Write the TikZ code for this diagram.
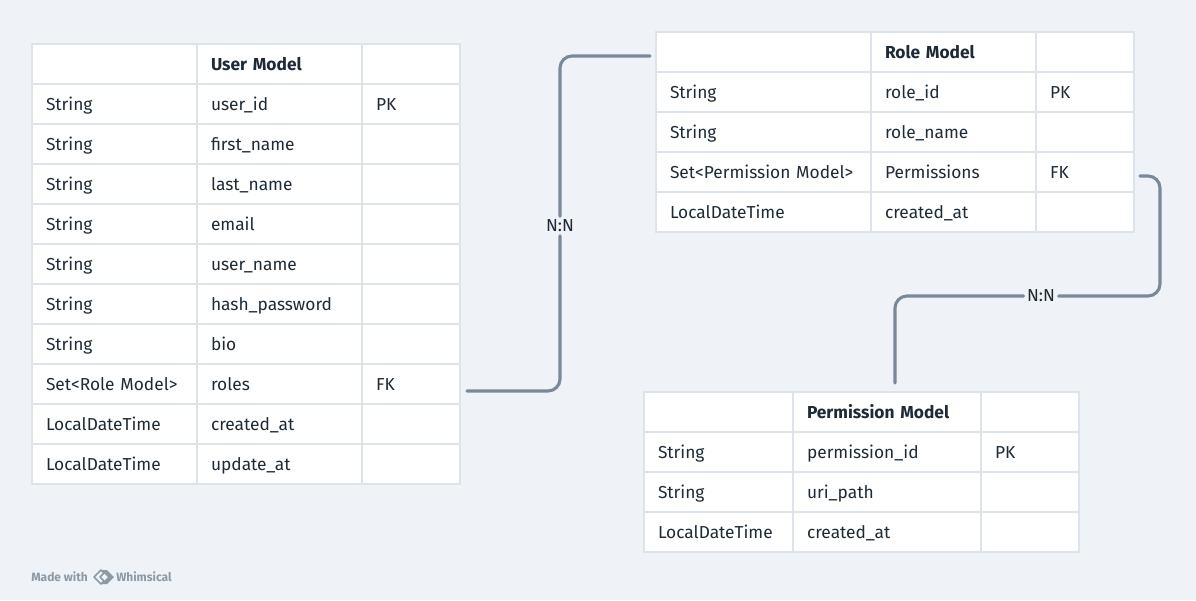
\documentclass[tikz,border=0pt]{standalone}
\usepackage{fontspec}
\setmainfont{Fira Sans}
\usetikzlibrary{positioning}
\definecolor{bgcol}{HTML}{EFF2F6}
\definecolor{gridcol}{HTML}{DDE3EB}
\definecolor{linkcol}{HTML}{7A8999}
\definecolor{txtcol}{HTML}{1E2A36}
\definecolor{markcol}{HTML}{8C99A6}
\tikzset{
  cell/.style={draw=gridcol, fill=white, line width=1.5pt, anchor=north west,
    outer sep=0pt, inner xsep=10.5pt, minimum height=30pt, align=left,
    text height=12pt, text depth=2pt,
    text=txtcol, font=\fontsize{13}{15}\selectfont},
  headcell/.style={cell, font=\bfseries\fontsize{13}{15}\selectfont},
  rel/.style={draw=linkcol, line width=2.3pt, line cap=round, rounded corners=9pt},
  card/.style={fill=bgcol, inner sep=2.5pt, text=txtcol, font=\fontsize{13}{15}\selectfont}
}
\begin{document}
\begin{tikzpicture}[x=0.75pt, y=-0.75pt]
  \fill[bgcol] (0,0) rectangle (1196,600);
  \useasboundingbox (0,0) rectangle (1196,600);
  % User Model
  \node[cell, text width=102.75pt] (u0a) at (32,44) {};
  \node[headcell, text width=102.75pt] (u0b) at (197,44) {User Model};
  \node[cell, text width=52.5pt] (u0c) at (362,44) {};
  \foreach \ta/\tb/\tc [count=\i] in {String/user\_id/PK, String/first\_name/{}, String/last\_name/{},
      String/email/{}, String/user\_name/{}, String/hash\_password/{}, String/bio/{},
      {Set<Role Model>}/roles/FK, LocalDateTime/created\_at/{}, LocalDateTime/update\_at/{}} {
    \node[cell, text width=102.75pt] (u\i a) at (32,44+40*\i) {\ta};
    \node[cell, text width=102.75pt] (u\i b) at (197,44+40*\i) {\tb};
    \node[cell, text width=52.5pt] (u\i c) at (362,44+40*\i) {\tc};
  }
  % Role Model
  \node[cell, text width=140.25pt] (r0a) at (656,32) {};
  \node[headcell, text width=102.75pt] (r0b) at (871,32) {Role Model};
  \node[cell, text width=52.5pt] (r0c) at (1036,32) {};
  \foreach \ta/\tb/\tc [count=\i] in {String/role\_id/PK, String/role\_name/{},
      {Set<Permission Model>}/Permissions/FK, LocalDateTime/created\_at/{}} {
    \node[cell, text width=140.25pt] (r\i a) at (656,32+40*\i) {\ta};
    \node[cell, text width=102.75pt] (r\i b) at (871,32+40*\i) {\tb};
    \node[cell, text width=52.5pt] (r\i c) at (1036,32+40*\i) {\tc};
  }
  % Permission Model
  \node[cell, text width=90.75pt] (p0a) at (644,392) {};
  \node[headcell, text width=120pt] (p0b) at (793,392) {Permission Model};
  \node[cell, text width=52.5pt] (p0c) at (981,392) {};
  \foreach \ta/\tb/\tc [count=\i] in {String/permission\_id/PK, String/uri\_path/{},
      LocalDateTime/created\_at/{}} {
    \node[cell, text width=90.75pt] (p\i a) at (644,392+40*\i) {\ta};
    \node[cell, text width=120pt] (p\i b) at (793,392+40*\i) {\tb};
    \node[cell, text width=52.5pt] (p\i c) at (981,392+40*\i) {\tc};
  }
  % relations
  \coordinate (uout) at ([shift={(7,7)}]u8c.east);
  \coordinate (rin) at ([shift={(-6,4)}]r0a.west);
  \coordinate (rout) at ([shift={(6,4)}]r3c.east);
  \coordinate (rturn) at (1160,296);
  \coordinate (pin) at ([shift={(8,-9)}]p0b.north);
  \node[card] (nn1) at (560,226) {N:N};
  \node[card] (nn2) at (1041,296) {N:N};
  \draw[rel] (uout) -| (nn1);
  \draw[rel] (nn1) |- (rin);
  \draw[rel] (rout) -| (rturn) -- (nn2);
  \draw[rel] (nn2) -| (pin);
  % footer
  \node[anchor=west, inner sep=0pt, text=markcol, font=\bfseries\fontsize{9}{11}\selectfont] (made) at (31,577) {Made with};
  \draw[markcol, line width=1.2pt, line join=round] (94,577) -- (101,570) -- (104,573) -- (100,577) -- (104,581) -- (101,584) -- cycle;
  \fill[markcol] (101,570) -- (108,577) -- (101,584) -- (107,584) -- (114,577) -- (107,570) -- cycle;
  \node[anchor=west, inner sep=0pt, text=markcol, font=\bfseries\fontsize{9}{11}\selectfont] (whim) at (116,577) {Whimsical};
\end{tikzpicture}
\end{document}
